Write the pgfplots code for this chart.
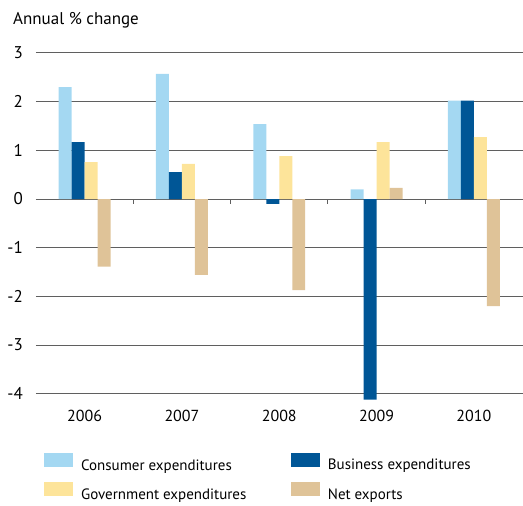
\documentclass[border=0pt]{standalone}
\usepackage{pgfplots}
\pgfplotsset{compat=1.18}
\usepackage{fontspec}
\setmainfont{PT Sans}

\definecolor{consumer}{RGB}{164,216,242}
\definecolor{business}{RGB}{0,86,150}
\definecolor{govt}{RGB}{253,228,154}
\definecolor{netexp}{RGB}{223,195,152}
\definecolor{gridc}{RGB}{95,95,95}

\begin{document}
\fontsize{15}{18}\selectfont
\begin{tikzpicture}
\begin{axis}[
  scale only axis,
  width=487pt, height=347pt,
  xmin=-0.5, xmax=4.5,
  ymin=-4.12, ymax=3,
  clip=false,
  ybar=0pt, bar width=13pt,
  axis line style={draw=none},
  major tick length=0pt,
  xtick={0,1,2,3,4},
  xticklabels={2006,2007,2008,2009,2010},
  ytick={-4,-3,-2,-1,0,1,2,3},
  yticklabels={-4,-3,-2,-1,0,1,2,3},
  ymajorgrids,
  grid style={gridc, line width=0.9pt},
  yticklabel style={xshift=-8pt, font=\fontsize{17}{20}\selectfont},
  xticklabel style={yshift=-5pt, font=\fontsize{16}{19}\selectfont},
  legend columns=2,
  legend cell align=left,
  legend style={draw=none, fill=none, at={(rel axis cs:0,0)}, anchor=north west,
    xshift=8pt, yshift=-53pt, row sep=8pt, inner sep=0pt,
    /tikz/every odd column/.append style={column sep=6pt}},
  legend image code/.code={\fill[#1] (0pt,-1pt) rectangle (29pt,13pt);},
]
\addplot[fill=consumer, draw=none] coordinates {(0,2.30) (1,2.57) (2,1.54) (3,0.20) (4,2.02)};
\addlegendentry{\makebox[208pt][l]{Consumer expenditures}}
\addplot[fill=business, draw=none] coordinates {(0,1.17) (1,0.55) (2,-0.10) (3,-4.12) (4,2.02)};
\addlegendentry{Business expenditures}
\addplot[fill=govt, draw=none] coordinates {(0,0.76) (1,0.72) (2,0.88) (3,1.17) (4,1.27)};
\addlegendentry{\makebox[208pt][l]{Government expenditures}}
\addplot[fill=netexp, draw=none] coordinates {(0,-1.39) (1,-1.56) (2,-1.87) (3,0.23) (4,-2.20)};
\addlegendentry{Net exports}
\pgfplotsinvokeforeach{0.5,1.5,2.5,3.5}{\draw[gridc, line width=0.9pt] (axis cs:#1,0) -- ++(0pt,-5pt);}
\node[anchor=base west, inner sep=0pt, font=\fontsize{17}{20}\selectfont] at ([xshift=-23pt, yshift=28pt]rel axis cs:0,1) {Annual \% change};
\path (rel axis cs:0,1) ++(-36pt,53pt) coordinate (tl);
\path (rel axis cs:1,0) ++(0pt,-106pt) coordinate (br);
\path (tl) (br);
\end{axis}
\end{tikzpicture}
\end{document}
